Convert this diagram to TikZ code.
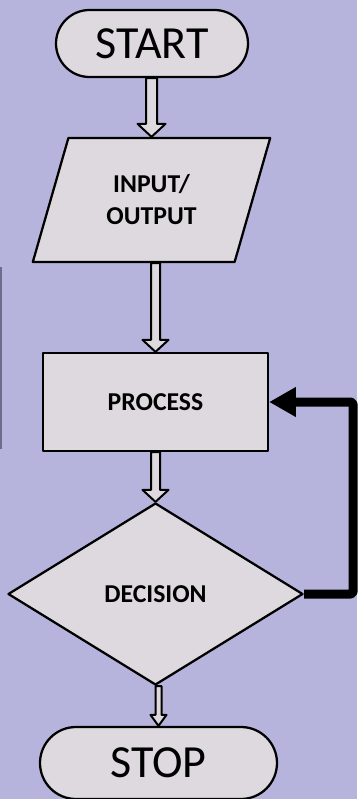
\documentclass[tikz,border=0pt]{standalone}
\usepackage{fontspec}
\setmainfont{Carlito}
\usetikzlibrary{shapes.geometric, shapes.misc, arrows.meta, calc}
\definecolor{bgpurple}{RGB}{182,180,220}
\definecolor{boxgray}{RGB}{221,217,223}
\definecolor{edgegray}{RGB}{110,108,140}
% hollow block arrow: from, to, half shaft, half head, head length
\newcommand{\blockarrow}[5]{%
	\draw[arrowbox] ($(#2.north |- #1.south)+(-#3,0)$) -- ($(#2.north)+(-#3,-#5)$) -- ($(#2.north)+(-#4,-#5)$) -- (#2.north) -- ($(#2.north)+(#4,-#5)$) -- ($(#2.north)+(#3,-#5)$) -- ($(#2.north |- #1.south)+(#3,0)$) -- cycle;}

\begin{document}
\begin{tikzpicture}[x=0.75pt, y=-0.75pt, line join=round,
		shapebox/.style={draw, fill=boxgray, line width=1.7pt, inner sep=0pt},
		terminal/.style={shapebox, rounded rectangle, font=\fontsize{34.5}{40}\selectfont},
		boldtext/.style={font=\fontsize{19.3}{24}\selectfont\bfseries, align=center},
		arrowbox/.style={draw, fill=boxgray, line width=1.5pt},
		loopline/.style={line width=6.75pt, rounded corners=2pt, -{Triangle[length=20pt, width=21pt]}}]
	\useasboundingbox[fill=bgpurple] (0,0) rectangle (357,799);
	\draw[edgegray, line width=1.2pt] (0.75,267) -- (0.75,449);
	\node[terminal, minimum width=144pt, minimum height=50.25pt] (start)at(152, 43.5) {START};
	\node[shapebox, boldtext, trapezium, trapezium left angle=69, trapezium right angle=111, trapezium stretches=true, minimum width=179pt, minimum height=93pt] (io)at(151.5, 200) {INPUT/\\OUTPUT};
	\node[shapebox, boldtext, rectangle, minimum width=168.75pt, minimum height=73.5pt] (process)at(155.5, 402) {PROCESS};
	\node[shapebox, boldtext, diamond, minimum width=221.25pt, minimum height=136.5pt] (decision)at(155.5, 594) {DECISION};
	\node[terminal, minimum width=177.75pt, minimum height=54pt] (stop)at(158.5, 763) {STOP};
	\blockarrow{start}{io}{5.5}{14}{13}
	\blockarrow{io}{process}{4.5}{13}{12}
	\blockarrow{process}{decision}{4.5}{13}{12}
	\blockarrow{decision}{stop}{3}{8}{11}
	\draw[loopline] (decision.east) -- ++(49, 0) |- (process.east);
\end{tikzpicture}
\end{document}
